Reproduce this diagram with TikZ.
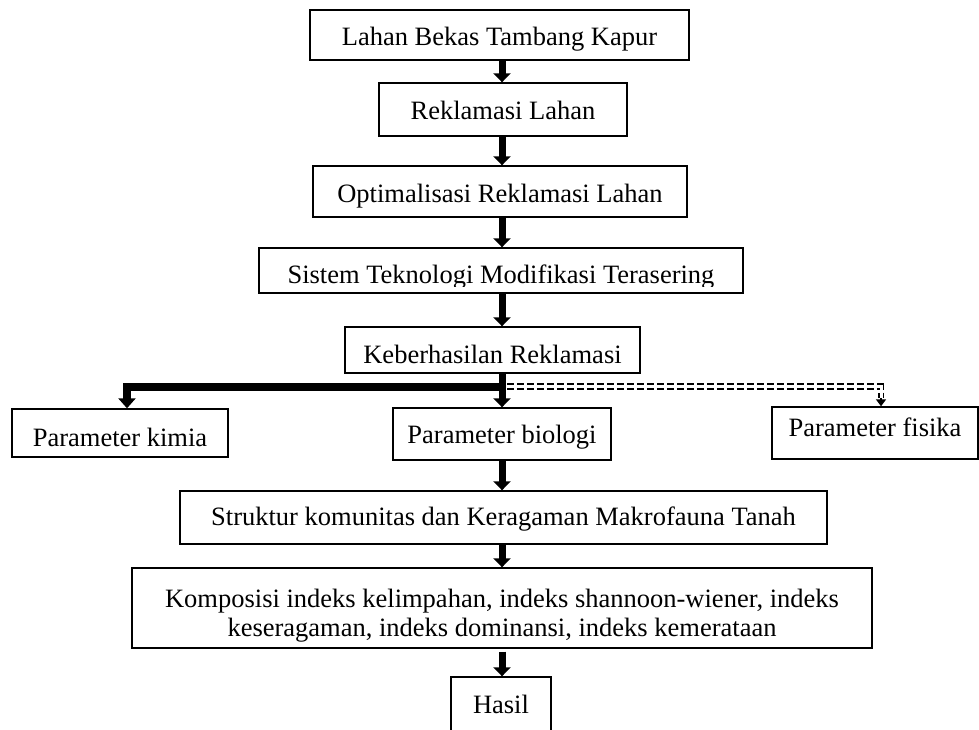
\documentclass[tikz,border=0pt]{standalone}
\usepackage{fontspec}
\setmainfont{Liberation Serif}
\usetikzlibrary{arrows.meta}
\begin{document}
\begin{tikzpicture}[x=1pt,y=-1pt,
  box/.style={draw, line width=1.4pt, inner sep=0pt, font=\fontsize{26.5}{34}\selectfont},
  txt/.style={anchor=base, inner sep=0pt, font=\fontsize{26.5}{34}\selectfont},
  tb/.style={text depth=0pt, text height=#1},
  arr/.style={line width=7pt, -{Triangle[width=17pt,length=9pt]}},
  dsh/.style={line width=1.8pt, dash pattern=on 7pt off 3pt}]
\useasboundingbox (0,0) rectangle (979,729);
\coordinate (ax) at (502,0);

\node[box, tb=20pt, minimum width=379pt, minimum height=50pt] (b1) at (499.5,35) {Lahan Bekas Tambang Kapur};
\node[box, tb=19pt, minimum width=248pt, minimum height=53pt] (b2) at (503,109.5) {Reklamasi Lahan};
\node[box, tb=21pt, minimum width=374pt, minimum height=51pt] (b3) at (500,191.5) {Optimalisasi Reklamasi Lahan};
\node[box, minimum width=484pt, minimum height=45pt] (b4) at (501,270.5) {};
\begin{scope}
  \clip (259,248) rectangle (743,286.5);
  \node[txt] (b4t) at (501,283) {Sistem Teknologi Modifikasi Terasering};
\end{scope}
\node[box, tb=26pt, minimum width=295pt, minimum height=46pt] (b5) at (492.5,350) {Keberhasilan Reklamasi};

\node[box, tb=26pt, minimum width=216pt, minimum height=48pt] (kimia) at (120,433) {Parameter kimia};
\node[box, tb=18pt, minimum width=218pt, minimum height=52pt] (bio) at (502,434) {Parameter biologi};
\node[box, tb=6pt, minimum width=206pt, minimum height=52pt] (fis) at (875,433) {Parameter fisika};

\node[box, tb=15pt, minimum width=647pt, minimum height=53pt] (str) at (503.5,517.5) {Struktur komunitas dan Keragaman Makrofauna Tanah};
\node[box, minimum width=740pt, minimum height=80pt] (kom) at (502,608) {};
\node[txt] (kom1) at (502,607) {Komposisi indeks kelimpahan, indeks shannoon-wiener, indeks};
\begin{scope}
  \clip (132,612) rectangle (872,641);
  \node[txt] (kom2) at (502,636) {keseragaman, indeks dominansi, indeks kemerataan};
\end{scope}
\node[box, tb=12pt, minimum width=100pt, minimum height=60pt] (has) at (501,707) {Hasil};

\draw[arr] (b1.south -| ax) -- (b2.north -| ax);
\draw[arr] (b2.south -| ax) -- (b3.north -| ax);
\draw[arr] (b3.south -| ax) -- (b4.north -| ax);
\draw[arr] (b4.south -| ax) -- (b5.north -| ax);

\coordinate (br) at (502,386.5);
\draw[arr] (b5.south -| ax) -- (bio.north -| ax);
\draw[line width=8pt, line join=miter, -{Triangle[width=17pt,length=10pt]}] (br) -| ([xshift=7pt]kimia.north);
\coordinate (dj) at (881,398);
\draw[dsh, double, double distance=3pt] ([xshift=5pt]br) -| (dj);
\draw[line width=1.6pt, -{Triangle[width=10pt,length=7pt]}] (dj) -- (dj |- fis.north);

\draw[arr] (bio.south -| ax) -- (str.north -| ax);
\draw[arr] (str.south -| ax) -- (kom.north -| ax);
\draw[arr] ([yshift=-3pt]kom.south -| ax) -- (has.north -| ax);
\end{tikzpicture}
\end{document}
